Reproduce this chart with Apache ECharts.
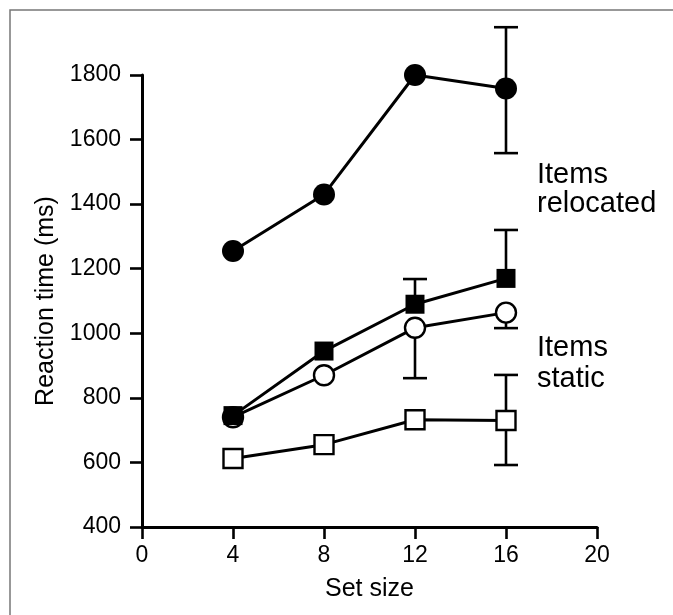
<!DOCTYPE html>
<html>
<head>
<meta charset="utf-8">
<script src="https://cdn.jsdelivr.net/npm/echarts@6/dist/echarts.min.js"></script>
<style>
  html, body { margin: 0; padding: 0; background: #fff; }
  #chart { width: 673px; height: 615px; }
</style>
</head>
<body>
<div id="chart"></div>
<script>
// set sizes on the x axis
var setSizes = [4, 8, 12, 16];
// tick labels
var xTicks = [0, 4, 8, 12, 16, 20];
var yTicks = [400, 600, 800, 1000, 1200, 1400, 1600, 1800];

// mean reaction times (ms)
var filledCircle = [1255, 1430, 1800, 1758];
var filledSquare = [745, 945, 1090, 1170];
var openCircle = [740, 870, 1017, 1064];
var openSquare = [612, 655, 732, 730];

// error bars: [set size, low end, high end]  (null = side not drawn)
var errFilledCircle = [[16, 1558, 1948]];
var errFilledSquare = [[12, null, 1168], [16, null, 1320]];
var errOpenCircle = [[12, 861, null], [16, 1016, null]];
var errOpenSquare = [[16, 592, 871]];

function pairs(vals) {
  return setSizes.map(function (x, i) { return [x, vals[i]]; });
}

function errData(errs, means) {
  return errs.map(function (e) {
    var i = setSizes.indexOf(e[0]);
    return [e[0], means[i], e[1] == null ? means[i] : e[1], e[2] == null ? means[i] : e[2], e[1] != null ? 1 : 0, e[2] != null ? 1 : 0];
  });
}

function errorBarItem(params, api) {
  var x = api.value(0);
  var lo = api.coord([x, api.value(2)]);
  var hi = api.coord([x, api.value(3)]);
  var half = 12;
  var style = { stroke: "#000", lineWidth: 2.6 };
  var children = [
    { type: "line", shape: { x1: lo[0], y1: lo[1], x2: hi[0], y2: hi[1] }, style: style }
  ];
  if (api.value(4)) {
    children.push({ type: "line", shape: { x1: lo[0] - half, y1: lo[1], x2: lo[0] + half, y2: lo[1] }, style: style });
  }
  if (api.value(5)) {
    children.push({ type: "line", shape: { x1: hi[0] - half, y1: hi[1], x2: hi[0] + half, y2: hi[1] }, style: style });
  }
  return { type: "group", children: children };
}

function errSeries(errs, means) {
  return {
    type: "custom",
    renderItem: errorBarItem,
    data: errData(errs, means),
    clip: false,
    z: 1,
    silent: true
  };
}

function lineSeries(name, vals, symbol, size, filled) {
  return {
    name: name,
    type: "line",
    data: pairs(vals),
    symbol: symbol,
    symbolSize: size,
    showAllSymbol: true,
    clip: false,
    z: 3,
    lineStyle: { color: "#000", width: 3 },
    itemStyle: {
      color: filled ? "#000" : "#fff",
      borderColor: "#000",
      borderWidth: filled ? 0 : 2.4
    },
    emphasis: { disabled: true }
  };
}

var font = "'Liberation Sans', Arial, Helvetica, sans-serif";

var option = {
  backgroundColor: "#fff",
  animation: false,
  grid: { left: 142, right: 76, top: 75, bottom: 88 },
  xAxis: {
    type: "value",
    min: 0,
    max: 20,
    interval: 4,
    name: "Set size",
    nameLocation: "middle",
    nameGap: 50,
    nameTextStyle: { color: "#000", fontSize: 25, fontFamily: font },
    axisLine: { show: true, lineStyle: { color: "#000", width: 3 } },
    axisTick: { show: true, length: 12, lineStyle: { color: "#000", width: 2.6 } },
    axisLabel: {
      color: "#000", fontSize: 23, fontFamily: font, margin: 17,
      formatter: function (v) { return xTicks.indexOf(v) >= 0 ? String(v) : ""; }
    },
    splitLine: { show: false }
  },
  yAxis: {
    type: "value",
    min: 400,
    max: 1800,
    interval: 200,
    name: "Reaction time (ms)",
    nameLocation: "middle",
    nameGap: 83,
    nameTextStyle: { color: "#000", fontSize: 25, fontFamily: font },
    axisLine: { show: true, lineStyle: { color: "#000", width: 3 } },
    axisTick: { show: true, length: 12, lineStyle: { color: "#000", width: 2.6 } },
    axisLabel: {
      color: "#000", fontSize: 23, fontFamily: font, margin: 21,
      formatter: function (v) { return yTicks.indexOf(v) >= 0 ? String(v) : ""; }
    },
    splitLine: { show: false }
  },
  graphic: [
    {
      type: "rect",
      shape: { x: 10, y: 10, width: 720, height: 700 },
      style: { fill: null, stroke: "#777", lineWidth: 1.5 },
      silent: true
    },
    {
      type: "text",
      left: 537,
      top: 160,
      style: { text: "Items\nrelocated", fill: "#000", fontSize: 29, lineHeight: 29, fontFamily: font }
    },
    {
      type: "text",
      left: 537,
      top: 332,
      style: { text: "Items\nstatic", fill: "#000", fontSize: 29, lineHeight: 31, fontFamily: font }
    }
  ],
  series: [
    errSeries(errFilledCircle, filledCircle),
    errSeries(errFilledSquare, filledSquare),
    errSeries(errOpenCircle, openCircle),
    errSeries(errOpenSquare, openSquare),
    lineSeries("Filled circle", filledCircle, "circle", 22, true),
    lineSeries("Open circle", openCircle, "circle", 20, false),
    lineSeries("Filled square", filledSquare, "rect", 19, true),
    lineSeries("Open square", openSquare, "rect", 19, false)
  ]
};

echarts.init(document.getElementById("chart")).setOption(option);
</script>
</body>
</html>
